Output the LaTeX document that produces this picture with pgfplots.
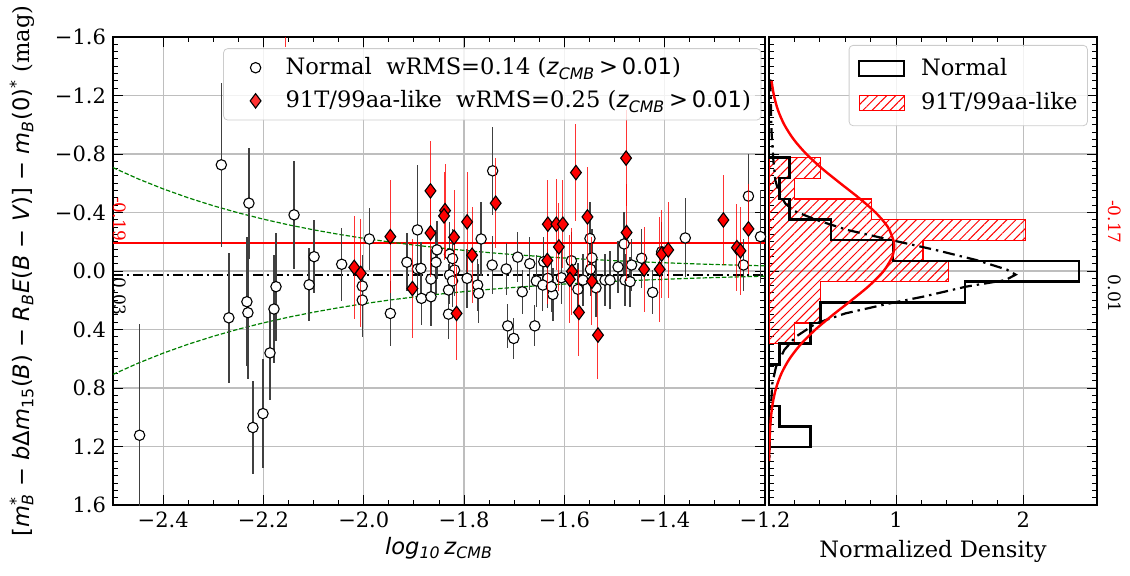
\documentclass[border=0pt]{standalone}
\usepackage{fontspec}
\setmainfont{DejaVu Serif}
\newfontfamily\dvs{DejaVu Sans}
\usepackage{pgfplots}
\usepackage{pgfplotstable}
\pgfplotsset{compat=1.18}
\usetikzlibrary{patterns.meta}
\definecolor{mplgreen}{RGB}{0,128,0}
\definecolor{gridgray}{RGB}{190,190,190}
\definecolor{leggray}{RGB}{204,204,204}
\newcommand{\ssub}[1]{\textsubscript{#1}}
\newcommand{\ssup}[1]{\textsuperscript{#1}}
\newcommand{\zc}{{\dvs\textit{z}\ssub{\textit{CMB}}\,>\,0.01}}

\pgfplotstableread{
x y e
-2.447 1.123 0.76
-2.284 -0.726 0.56
-2.269 0.320 0.445
-2.229 -0.464 0.38
-2.233 0.210 0.44
-2.231 0.285 0.45
-2.221 1.070 0.32
-2.201 0.975 0.37
-2.187 0.560 0.32
-2.179 0.260 0.37
-2.175 0.107 0.37
-2.139 -0.384 0.37
-2.109 0.094 0.25
-2.099 -0.098 0.25
-2.044 -0.046 0.25
-2.003 0.103 0.21
-2.003 0.199 0.255
-1.989 -0.219 0.21
-1.947 0.290 0.22
-1.914 -0.060 0.20
-1.893 -0.281 0.445
-1.893 -0.014 0.20
-1.886 -0.018 0.18
-1.885 0.187 0.18
-1.866 0.055 0.20
-1.866 0.176 0.20
-1.856 -0.060 0.22
-1.854 -0.145 0.20
-1.829 -0.115 0.22
-1.823 -0.085 0.20
-1.819 -0.007 0.18
-1.829 0.027 0.20
-1.823 0.068 0.18
-1.831 0.130 0.18
-1.831 0.295 0.17
-1.794 0.050 0.20
-1.773 0.096 0.18
-1.771 0.153 0.20
-1.766 -0.219 0.25
-1.744 -0.041 0.20
-1.743 -0.685 0.30
-1.716 -0.014 0.18
-1.713 0.375 0.15
-1.701 0.461 0.14
-1.693 -0.095 0.17
-1.684 0.142 0.15
-1.669 -0.050 0.18
-1.659 0.375 0.14
-1.656 0.068 0.18
-1.641 -0.064 0.17
-1.633 0.050 0.20
-1.643 0.096 0.18
-1.623 0.160 0.18
-1.626 0.107 0.17
-1.606 0.046 0.18
-1.586 -0.070 0.20
-1.573 0.125 0.18
-1.563 0.062 0.18
-1.549 -0.222 0.25
-1.548 -0.012 0.18
-1.545 -0.090 0.20
-1.537 0.115 0.20
-1.519 0.062 0.18
-1.509 0.062 0.20
-1.493 -0.028 0.18
-1.481 -0.185 0.22
-1.479 0.062 0.18
-1.469 0.073 0.17
-1.466 -0.041 0.18
-1.446 -0.087 0.20
-1.424 0.146 0.15
-1.406 -0.132 0.20
-1.359 -0.226 0.27
-1.243 -0.041 0.18
-1.233 -0.512 0.29
-1.209 -0.235 0.32
}\normaltab

\pgfplotstableread{
x y e
-2.019 -0.025 0.35
-2.006 0.016 0.37
-1.947 -0.235 0.385
-1.903 0.120 0.34
-1.867 -0.548 0.34
-1.867 -0.260 0.30
-1.838 -0.413 0.32
-1.840 -0.377 0.30
-1.820 -0.231 0.32
-1.815 0.290 0.32
-1.794 -0.336 0.34
-1.784 -0.108 0.33
-1.737 -0.464 0.31
-1.633 -0.320 0.30
-1.616 -0.320 0.31
-1.603 -0.320 0.30
-1.634 -0.072 0.30
-1.611 -0.165 0.30
-1.585 0.003 0.30
-1.589 0.057 0.30
-1.577 -0.673 0.33
-1.571 0.283 0.30
-1.554 -0.370 0.34
-1.545 0.070 0.30
-1.533 0.438 0.30
-1.477 -0.772 0.33
-1.476 -0.263 0.33
-1.441 -0.012 0.29
-1.410 -0.012 0.36
-1.406 -0.116 0.30
-1.393 -0.144 0.33
-1.283 -0.349 0.31
-1.256 -0.160 0.30
-1.249 -0.138 0.30
-1.233 -0.288 0.31
}\ttab

\pgfplotstableread{
x y e
-2.156 -1.95 0.42
}\offtab

\pgfplotstableread{
x u l
-2.50 -0.7071 0.7071
-2.45 -0.6302 0.6302
-2.40 -0.5617 0.5617
-2.35 -0.5006 0.5006
-2.30 -0.4462 0.4462
-2.25 -0.3976 0.3976
-2.20 -0.3544 0.3544
-2.15 -0.3158 0.3158
-2.10 -0.2815 0.2815
-2.05 -0.2509 0.2509
-2.00 -0.2236 0.2236
-1.95 -0.1993 0.1993
-1.90 -0.1776 0.1776
-1.85 -0.1583 0.1583
-1.80 -0.1411 0.1411
-1.75 -0.1257 0.1257
-1.70 -0.1121 0.1121
-1.65 -0.0999 0.0999
-1.60 -0.0890 0.0890
-1.55 -0.0793 0.0793
-1.50 -0.0707 0.0707
-1.45 -0.0630 0.0630
-1.40 -0.0562 0.0562
-1.35 -0.0501 0.0501
-1.30 -0.0446 0.0446
-1.25 -0.0398 0.0398
-1.20 -0.0354 0.0354
}\envtab

\begin{document}
\begin{tikzpicture}[font=\fontsize{11.3}{13}\selectfont]
\useasboundingbox (-56.5pt,-35pt) rectangle (508.5pt,252.5pt);
\pgfplotsset{
  common/.style={
    scale only axis, height=234pt,
    ymin=-1.6, ymax=1.6, y dir=reverse,
    ytick={-1.6,-1.2,-0.8,-0.4,0,0.4,0.8,1.2,1.6},
    minor y tick num=7,
    tick align=inside, tick pos=both,
    major tick length=5pt, minor tick length=2.5pt,
    every tick/.style={black, line width=0.5pt},
    axis line style={line width=0.6pt},
    grid=major, major grid style={gridgray, line width=0.6pt},
    tick label style={font=\fontsize{10.5}{12}\selectfont},
    label style={font=\fontsize{12}{14}\selectfont},
    clip mode=individual,
  },
}
\begin{axis}[common,
  at={(0pt,0pt)}, anchor=south west, width=326pt,
  xmin=-2.5, xmax=-1.2,
  xtick={-2.4,-2.2,-2.0,-1.8,-1.6,-1.4,-1.2},
  xticklabels={−2.4,−2.2,−2.0,−1.8,−1.6,−1.4,−1.2},
  yticklabels={−1.6,−1.2,−0.8,−0.4,0.0,0.4,0.8,1.2,1.6},
  minor x tick num=3,
  xlabel={{\dvs\itshape log\ssub{10}\,z\ssub{CMB}}},
  ylabel={{\dvs [\textit{m}\rlap{\ssup{*}}\ssub{\textit{B}} − \textit{b}Δ\textit{m}\ssub{15}(\textit{B}) − \textit{R}\ssub{\textit{B}}\textit{E}(\textit{B} − \textit{V})] − \textit{m}\ssub{\textit{B}}(0)\ssup{*}} (mag)},
  every axis x label/.style={at={(axis description cs:0.5,-0.092)}, anchor=center},
  every axis y label/.style={at={(axis description cs:-0.1396,0.5)}, anchor=center, rotate=90},
  legend style={at={(0.169,0.976)}, anchor=north west, draw=leggray, rounded corners=2pt,
    fill=white, fill opacity=0.8, text opacity=1, row sep=2.5pt, inner xsep=3pt, inner ysep=2.5pt,
    font=\fontsize{11.3}{13}\selectfont},
  legend cell align=left,
]
\addlegendimage{legend image code/.code={\path[draw=none,fill=none] (0pt,-3pt) rectangle (26pt,3pt);
  \draw[sharp corners, draw=black, fill=white, line width=0.55pt] (13pt,0pt) circle (2.6pt);}}
\addlegendentry{Normal\ \ wRMS=0.14 (\zc)}
\addlegendimage{legend image code/.code={\path[draw=none,fill=none] (0pt,-3pt) rectangle (26pt,3pt);
  \draw[sharp corners, draw=black, fill=red, line width=0.55pt] (13pt,3.6pt) -- (15.7pt,0pt) -- (13pt,-3.6pt) -- (10.3pt,0pt) -- cycle;}}
\addlegendentry{91T/99aa-like\ \ wRMS=0.25 (\zc)}
\addplot[red, line width=1pt, forget plot] coordinates {(-2.5,-0.19) (-1.2,-0.19)};
\addplot[black, line width=1pt, dash pattern=on 5pt off 2pt on 1pt off 2pt, forget plot] coordinates {(-2.5,0.03) (-1.2,0.03)};
\addplot[mplgreen, line width=0.6pt, dash pattern=on 2.2pt off 1pt, forget plot] table[x=x,y=u] {\envtab};
\addplot[mplgreen, line width=0.6pt, dash pattern=on 2.2pt off 1pt, forget plot] table[x=x,y=l] {\envtab};
\addplot[only marks, forget plot, mark=*, mark size=2.6pt, mark options={fill=white, draw=black, line width=0.55pt},
  error bars/.cd, y dir=both, y explicit, error mark=none,
  error bar style={black!75, line width=0.65pt}]
  table[x=x,y=y,y error=e] {\normaltab};
\addplot[only marks, forget plot, mark=diamond*, mark size=3.6pt, mark options={fill=red, draw=black, line width=0.55pt},
  error bars/.cd, y dir=both, y explicit, error mark=none,
  error bar style={red, opacity=0.8, line width=0.5pt}]
  table[x=x,y=y,y error=e] {\ttab};
\addplot[draw=none, mark=none, forget plot,
  error bars/.cd, y dir=both, y explicit, error mark=none,
  error bar style={red, opacity=0.8, line width=0.5pt}]
  table[x=x,y=y,y error=e] {\offtab};
\node[red, rotate=-90, anchor=east, inner sep=1pt, font=\fontsize{8.5}{10}\selectfont] at (axis cs:-2.486,-0.19) {-0.19};
\node[black, rotate=-90, anchor=west, inner sep=1pt, font=\fontsize{8.5}{10}\selectfont] at (axis cs:-2.486,0.03) {0.03};
\end{axis}

\begin{axis}[common,
  at={(328pt,0pt)}, anchor=south west, width=164pt,
  xmin=0, xmax=2.58,
  xtick={0,1,2}, xticklabels={,1,2},
  minor x tick num=4,
  yticklabels={},
  xlabel={Normalized Density},
  every axis x label/.style={at={(axis description cs:0.5,-0.1)}, anchor=center},
  legend style={at={(0.972,0.983)}, anchor=north east, draw=leggray, rounded corners=2pt,
    fill=white, fill opacity=0.8, text opacity=1, row sep=3pt, inner xsep=3pt, inner ysep=4.5pt,
    font=\fontsize{11.3}{13}\selectfont},
  legend cell align=left,
]
\addlegendimage{legend image code/.code={\draw[sharp corners, draw=black, fill=none, line width=1.2pt] (2pt,-3.75pt) rectangle (24.5pt,3.75pt); \path[draw=none,fill=none] (0pt,0pt) -- (31pt,0pt);}}
\addlegendentry{Normal}
\addlegendimage{legend image code/.code={\draw[sharp corners, draw=red, line width=0.6pt, pattern={Lines[angle=45,distance=3.2pt,line width=0.5pt]}, pattern color=red] (2pt,-3.75pt) rectangle (24.5pt,3.75pt); \path[draw=none,fill=none] (0pt,0pt) -- (31pt,0pt);}}
\addlegendentry{91T/99aa-like}
% 91T/99aa-like histogram (normalized density)
\addplot[draw=red, line width=0.6pt, pattern={Lines[angle=45,distance=3.2pt,line width=0.5pt]}, pattern color=red, forget plot] coordinates {
(0,-0.776) (0.404,-0.776) (0.404,-0.635) (0.202,-0.635) (0.202,-0.493) (0.808,-0.493) (0.808,-0.352)
(2.020,-0.352) (2.020,-0.210) (1.212,-0.210) (1.212,-0.069) (1.414,-0.069) (1.414,0.073)
(0.404,0.073) (0.404,0.214) (0.404,0.356) (0.202,0.356) (0.202,0.497) (0,0.497)} -- cycle;
% Normal histogram
\addplot[black, line width=1.2pt, forget plot] coordinates {
(0,-0.776) (0.162,-0.776) (0.162,-0.635) (0.081,-0.635) (0.081,-0.493) (0.162,-0.493) (0.162,-0.352)
(0.487,-0.352) (0.487,-0.210) (0.975,-0.210) (0.975,-0.069) (2.437,-0.069) (2.437,0.073)
(1.543,0.073) (1.543,0.214) (0.406,0.214) (0.406,0.356) (0.325,0.356) (0.325,0.497)
(0.081,0.497) (0.081,0.639) (0,0.639)};
\addplot[black, line width=1.2pt, forget plot] coordinates {
(0,0.922) (0.081,0.922) (0.081,1.063) (0.325,1.063) (0.325,1.205) (0,1.205)};
% fitted curves
\addplot[black, line width=1.1pt, dash pattern=on 6pt off 2.5pt on 1.2pt off 2.5pt, forget plot] coordinates {
(0.010,-1.31) (0.020,-0.95) (0.035,-0.75) (0.050,-0.62) (0.080,-0.53) (0.130,-0.46) (0.200,-0.41)
(0.370,-0.35) (0.620,-0.28) (0.970,-0.21) (1.310,-0.144) (1.630,-0.075) (1.870,-0.01) (1.940,0.025)
(1.860,0.062) (1.550,0.107) (1.210,0.176) (0.950,0.221) (0.600,0.29) (0.370,0.358) (0.210,0.45)
(0.120,0.54) (0.055,0.655) (0.026,0.77) (0.010,1.0) (0.004,1.29)};
\addplot[red, line width=1.2pt, smooth, forget plot] coordinates {
(0.0201,-1.3) (0.0388,-1.2) (0.0705,-1.1) (0.1206,-1.0) (0.1940,-0.9) (0.2937,-0.8) (0.4183,-0.7)
(0.5606,-0.6) (0.7067,-0.5) (0.8383,-0.4) (0.9356,-0.3) (0.9823,-0.2) (0.985,-0.17) (0.9704,-0.1)
(0.9020,0.0) (0.7887,0.1) (0.6489,0.2) (0.5024,0.3) (0.3658,0.4) (0.2507,0.5) (0.1616,0.6)
(0.0980,0.7) (0.0559,0.8) (0.0300,0.9) (0.0152,1.0) (0.0072,1.1) (0.0032,1.2) (0.0014,1.3)};
\node[red, rotate=-90, anchor=east, inner sep=1pt, font=\fontsize{8.5}{10}\selectfont] at (axis cs:2.717,-0.17) {-0.17};
\node[black, rotate=-90, anchor=west, inner sep=1pt, font=\fontsize{8.5}{10}\selectfont] at (axis cs:2.717,0.01) {0.01};
\end{axis}
\end{tikzpicture}
\end{document}
